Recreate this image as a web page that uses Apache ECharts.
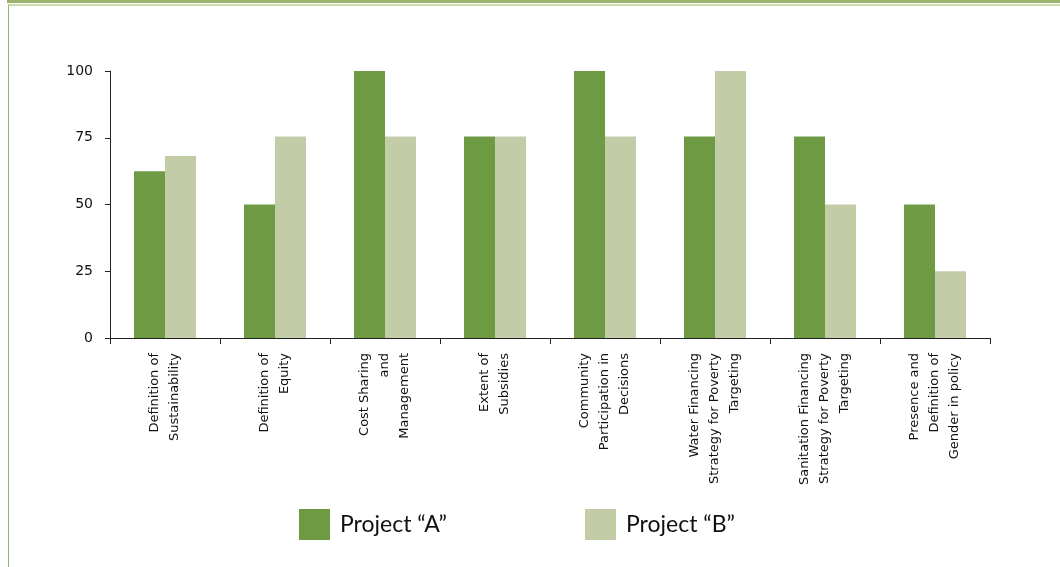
<!DOCTYPE html>
<html>
<head>
<meta charset="utf-8">
<script src="https://cdn.jsdelivr.net/npm/echarts@6/dist/echarts.min.js"></script>
<style>html,body{margin:0;padding:0;background:#fff;}#c{width:1060px;height:567px;}</style>
</head>
<body>
<div id="c"></div>
<script>
const categories = [
  "Definition of\nSustainability",
  "Definition of\nEquity",
  "Cost Sharing\nand\nManagement",
  "Extent of\nSubsidies",
  "Community\nParticipation in\nDecisions",
  "Water Financing\nStrategy for Poverty\nTargeting",
  "Sanitation Financing\nStrategy for Poverty\nTargeting",
  "Presence and\nDefinition of\nGender in policy"
];
const projectA = [62.5, 50, 100, 75.5, 100, 75.5, 75.5, 50];
const projectB = [68.2, 75.5, 75.5, 75.5, 75.5, 100, 50, 25];
const yTicks = [0, 25, 50, 75, 100];
const seriesNames = ['Project \u201CA\u201D', 'Project \u201CB\u201D'];

const FONT = 'DejaVu Sans';
const LFONT = 'Lato';
const chart = echarts.init(document.getElementById('c'), null, {renderer: 'canvas'});
chart.setOption({
  animation: false,
  backgroundColor: '#ffffff',
  textStyle: {fontFamily: FONT},
  graphic: [
    {type: 'rect', shape: {x: 7, y: 0, width: 1053, height: 3}, style: {fill: '#9bb36f'}},
    {type: 'line', shape: {x1: 8, y1: 5, x2: 1060, y2: 5}, style: {stroke: '#8dbb5c', lineWidth: 1}},
    {type: 'line', shape: {x1: 8.5, y1: 5, x2: 8.5, y2: 567}, style: {stroke: '#8dbb5c', lineWidth: 1}}
  ],
  grid: {left: 110, right: 70, top: 71, bottom: 229, containLabel: false},
  legend: [
    {data: [seriesNames[0]], left: 294, top: 504, itemWidth: 31, itemHeight: 31, icon: 'rect',
     textStyle: {fontSize: 23, color: '#111', fontFamily: LFONT, padding: [0, 0, 0, 5]}, itemGap: 10},
    {data: [seriesNames[1]], left: 580, top: 504, itemWidth: 31, itemHeight: 31, icon: 'rect',
     textStyle: {fontSize: 23, color: '#111', fontFamily: LFONT, padding: [0, 0, 0, 5]}, itemGap: 10}
  ],
  xAxis: {
    type: 'category',
    data: categories,
    axisLine: {lineStyle: {color: '#222', width: 1}},
    axisTick: {show: true, length: 6, lineStyle: {color: '#222'}},
    axisLabel: {rotate: 90, fontSize: 13, lineHeight: 20, color: '#111', margin: 15, interval: 0, fontFamily: FONT}
  },
  yAxis: {
    type: 'value',
    min: 0, max: 100, interval: 25,
    axisLine: {show: true, lineStyle: {color: '#222', width: 1}},
    axisTick: {show: true, length: 5, lineStyle: {color: '#222'}},
    splitLine: {show: false},
    axisLabel: {fontSize: 14, color: '#111', margin: 17, fontFamily: FONT,
      formatter: v => yTicks.includes(v) ? String(v) : ''}
  },
  series: [
    {name: seriesNames[0], type: 'bar', data: projectA, barWidth: 31, barGap: '0%',
     itemStyle: {color: '#6e9a44'}},
    {name: seriesNames[1], type: 'bar', data: projectB, barWidth: 31, barGap: '0%',
     itemStyle: {color: '#c2cda8'}}
  ]
});
</script>
</body>
</html>
